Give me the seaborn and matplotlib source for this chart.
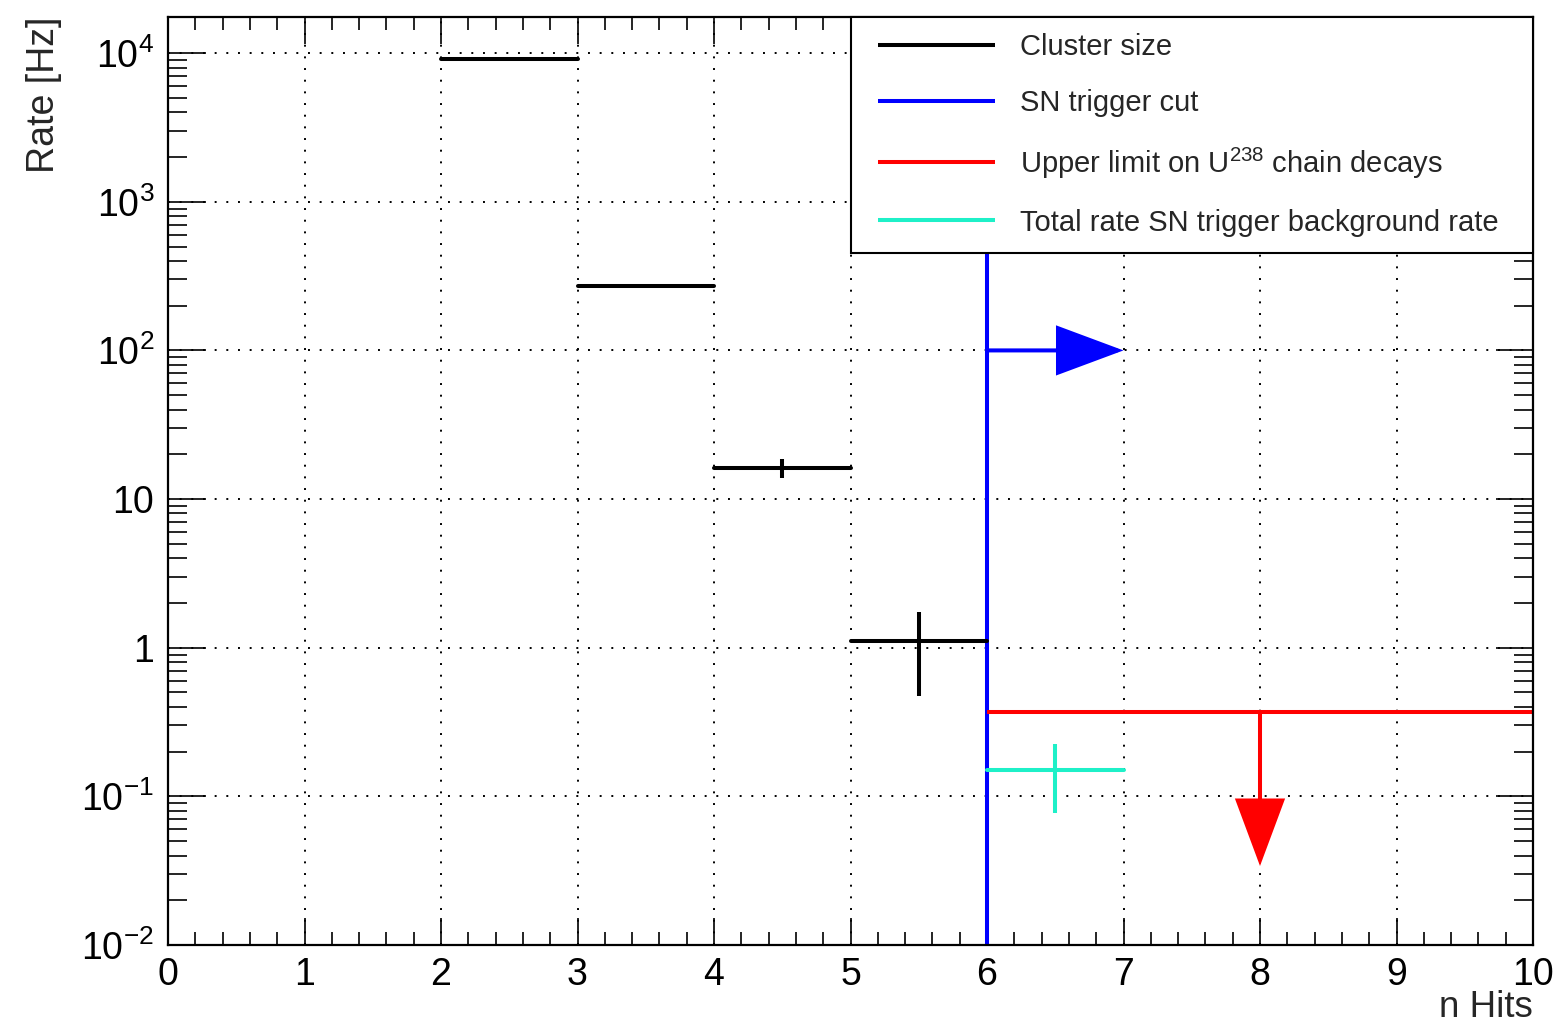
import numpy as np
import pandas as pd
import matplotlib
matplotlib.use("Agg")
import matplotlib.pyplot as plt
import seaborn as sns
from matplotlib.lines import Line2D
from matplotlib.legend_handler import HandlerBase
from matplotlib.ticker import LogLocator, MultipleLocator, NullFormatter

# ---------------- data ----------------
cluster_lo = [2, 3, 4, 5]
cluster_hi = [3, 4, 5, 6]
cluster_rate = [9200.0, 270.0, 16.2, 1.11]
cluster_err = [60.0, 6.0, 2.4, 0.635]

cut_nhits = 6
cut_arrow_rate = 100.0
cut_arrow_end = 7

u238_lo, u238_hi = 6, 10
u238_limit = 0.37
u238_arrow_x = 8
u238_arrow_end = 0.034

bkg_lo = [6]
bkg_hi = [7]
bkg_rate = [0.151]
bkg_err = [0.0735]

x_ticks = list(range(0, 11))
y_ticks = [1e-2, 1e-1, 1, 10, 1e2, 1e3, 1e4]
y_tick_labels = [r"$10^{-2}$", r"$10^{-1}$", "1", "10", r"$10^{2}$", r"$10^{3}$", r"$10^{4}$"]
legend_labels = ["Cluster size", "SN trigger cut",
                 r"Upper limit on U$^{238}$ chain decays",
                 "Total rate SN trigger background rate"]
c_cluster = "#000000"
c_cut = "#0000ff"
c_u238 = "#ff0000"
c_bkg = "#1ef0c8"

# ---------------- style ----------------
sns.set_theme(style="ticks")
plt.rcParams["font.family"] = ["Liberation Sans", "DejaVu Sans"]
plt.rcParams["mathtext.fontset"] = "custom"
plt.rcParams["mathtext.rm"] = "Liberation Sans"
plt.rcParams["mathtext.it"] = "Liberation Sans:italic"
plt.rcParams["mathtext.bf"] = "Liberation Sans:bold"
plt.rcParams["mathtext.default"] = "regular"
plt.rcParams["axes.unicode_minus"] = True

W, H = 1555, 1025
fig = plt.figure(figsize=(W / 100, H / 100), dpi=100)
ax = fig.add_axes([168 / W, 1 - 945 / H, (1533 - 168) / W, (945 - 17) / H])
ax.set_yscale("log")

LW = 2.9

def segments(lo, hi, val):
    return pd.DataFrame({
        "nhits": np.ravel(np.column_stack([lo, hi])),
        "rate": np.repeat(val, 2),
        "bin": np.repeat(np.arange(len(val)), 2),
    })

# cluster size histogram
sns.lineplot(data=segments(cluster_lo, cluster_hi, cluster_rate), x="nhits", y="rate",
             units="bin", estimator=None, sort=False, color=c_cluster, lw=LW,
             ax=ax, legend=False, zorder=4)
cl_centers = (np.array(cluster_lo) + np.array(cluster_hi)) / 2
ax.errorbar(cl_centers, cluster_rate, yerr=cluster_err, fmt="none",
            ecolor=c_cluster, elinewidth=LW, capsize=0, zorder=4)

# background rate
sns.lineplot(data=segments(bkg_lo, bkg_hi, bkg_rate), x="nhits", y="rate",
             units="bin", estimator=None, sort=False, color=c_bkg, lw=LW,
             ax=ax, legend=False, zorder=4)
bk_centers = (np.array(bkg_lo) + np.array(bkg_hi)) / 2
ax.errorbar(bk_centers, bkg_rate, yerr=bkg_err, fmt="none",
            ecolor=c_bkg, elinewidth=LW, capsize=0, zorder=4)

# SN trigger cut
ax.axvline(cut_nhits, color=c_cut, lw=LW, zorder=3)

def arrow_props(color):
    return dict(arrowstyle="-|>,head_length=4.3,head_width=1.6", mutation_scale=10,
                color=color, lw=LW, shrinkA=0, shrinkB=0, joinstyle="miter",
                capstyle="butt")

ax.annotate("", xy=(cut_arrow_end, cut_arrow_rate), xytext=(cut_nhits, cut_arrow_rate),
            arrowprops=arrow_props(c_cut), zorder=5)

# U238 upper limit
ax.hlines(u238_limit, u238_lo, u238_hi, color=c_u238, lw=LW, zorder=4)
ax.annotate("", xy=(u238_arrow_x, u238_arrow_end), xytext=(u238_arrow_x, u238_limit),
            arrowprops=arrow_props(c_u238), zorder=5)

# ---------------- axes ----------------
ax.set_xlim(0, 10)
ax.set_ylim(1e-2, 17500)
ax.set_xticks(x_ticks)
ax.set_xticklabels([str(t) for t in x_ticks])
ax.xaxis.set_minor_locator(MultipleLocator(0.2))
ax.set_yticks(y_ticks)
ax.set_yticklabels(y_tick_labels)
ax.yaxis.set_minor_locator(LogLocator(base=10, subs=np.arange(2, 10), numticks=50))
ax.yaxis.set_minor_formatter(NullFormatter())

ax.tick_params(which="both", direction="in", top=True, right=True, colors="black",
               labelsize=27, width=1.2)
ax.tick_params(axis="x", which="major", length=19.5, pad=8.5)
ax.tick_params(axis="x", which="minor", length=9.5)
ax.tick_params(axis="y", which="major", length=27, pad=10)
ax.tick_params(axis="y", which="minor", length=14)
for s in ax.spines.values():
    s.set_linewidth(1.6)
    s.set_color("black")
    s.set_zorder(6)

ax.grid(True, which="major", color="black", linestyle=(0, (1, 5)), lw=1.4)
ax.set_axisbelow(True)

ax.set_xlabel("n Hits", fontsize=26.5, loc="right")
ax.set_ylabel("Rate [Hz]", fontsize=27, loc="top")
ax.xaxis.set_label_coords(1.0, (945 - 990) / 928)
ax.yaxis.set_label_coords((62 - 168) / 1365, 1.0)

# ---------------- legend ----------------
class OffsetLine(HandlerBase):
    def create_artists(self, legend, orig_handle, xdescent, ydescent, width, height,
                       fontsize, trans):
        off = 0.084 * width
        y = height / 2 - ydescent
        line = Line2D([-xdescent + off, -xdescent + width], [y, y],
                      color=orig_handle.get_color(), lw=orig_handle.get_linewidth(),
                      solid_capstyle="butt")
        line.set_transform(trans)
        return [line]

handles = [Line2D([], [], color=c, lw=LW) for c in (c_cluster, c_cut, c_u238, c_bkg)]
x0 = (851 - 168) / 1365
leg = ax.legend(handles, legend_labels, loc="upper left",
                bbox_to_anchor=(x0, 0, 1 - x0, 1), mode="expand", borderaxespad=0,
                fontsize=21, handlelength=4.38, handletextpad=0.857, borderpad=0.56,
                labelspacing=0.96, fancybox=False, framealpha=1, edgecolor="black",
                handler_map={Line2D: OffsetLine()})
leg.get_frame().set_linewidth(1.5)
leg.set_zorder(10)

fig.savefig("out.png", dpi=100, facecolor="white")
